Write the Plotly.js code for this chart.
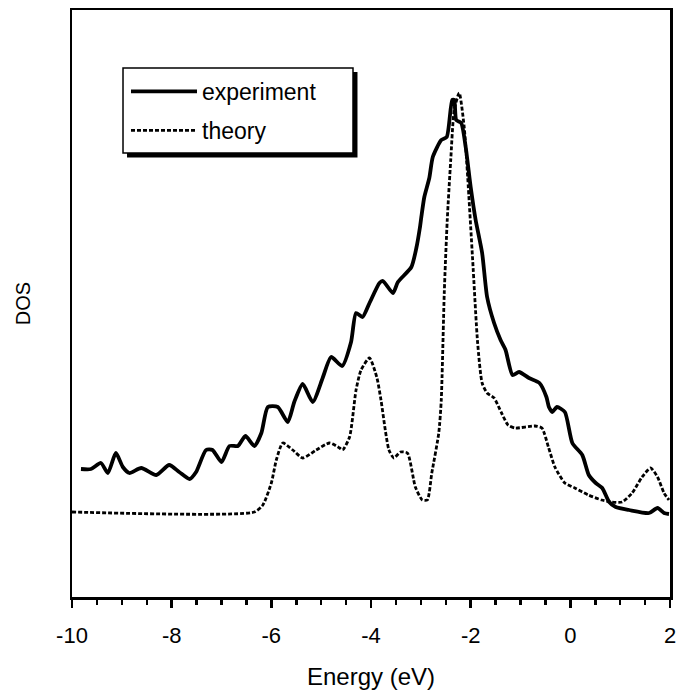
<!DOCTYPE html>
<html>
<head>
<meta charset="utf-8">
<script src="https://cdn.plot.ly/plotly-3.0.1.min.js"></script>
<style>html,body{margin:0;padding:0;background:#fff;}#chart{width:676px;height:693px;}</style>
</head>
<body>
<div id="chart"></div>
<script>
// Experiment DOS (arbitrary units)
var expEnergy = [-9.82,-9.62,-9.42,-9.28,-9.12,-8.98,-8.85,-8.61,-8.31,-8.05,-7.85,-7.64,-7.51,-7.31,-7.18,-7.00,-6.84,-6.67,-6.52,-6.34,-6.20,-6.07,-5.87,-5.67,-5.54,-5.37,-5.17,-4.97,-4.80,-4.58,-4.40,-4.30,-4.17,-4.03,-3.83,-3.76,-3.56,-3.46,-3.19,-3.09,-3.02,-2.99,-2.93,-2.83,-2.76,-2.59,-2.48,-2.37,-2.33,-2.29,-2.19,-2.10,-2.00,-1.90,-1.77,-1.67,-1.53,-1.40,-1.30,-1.16,-1.03,-0.83,-0.62,-0.48,-0.43,-0.36,-0.27,-0.11,0.04,0.24,0.37,0.51,0.64,0.78,0.91,1.18,1.58,1.75,1.88,1.98];
var expDOS = [1.28,1.28,1.34,1.24,1.44,1.30,1.24,1.29,1.22,1.32,1.25,1.18,1.25,1.47,1.47,1.35,1.51,1.51,1.61,1.51,1.64,1.90,1.90,1.75,1.95,2.13,1.95,2.19,2.40,2.31,2.55,2.84,2.80,2.94,3.14,3.16,3.04,3.15,3.30,3.49,3.69,3.80,4.00,4.19,4.40,4.57,4.60,4.97,4.97,4.77,4.74,4.50,4.10,3.77,3.44,3.00,2.74,2.57,2.47,2.22,2.25,2.19,2.14,2.00,1.90,1.85,1.90,1.85,1.54,1.42,1.22,1.14,1.09,0.95,0.90,0.87,0.84,0.89,0.84,0.83];
// Theory DOS (arbitrary units)
var thEnergy = [-10.0,-6.34,-6.17,-6.00,-5.90,-5.77,-5.57,-5.37,-5.10,-4.83,-4.63,-4.57,-4.43,-4.30,-4.20,-4.03,-3.88,-3.80,-3.64,-3.54,-3.41,-3.27,-3.11,-2.97,-2.87,-2.78,-2.64,-2.59,-2.53,-2.47,-2.40,-2.33,-2.23,-2.13,-2.06,-1.96,-1.86,-1.77,-1.67,-1.53,-1.38,-1.25,-1.11,-0.71,-0.57,-0.44,-0.31,-0.11,0.09,0.36,0.63,0.83,1.04,1.24,1.44,1.61,1.75,1.88,1.98];
var thDOS = [0.85,0.85,0.92,1.14,1.37,1.54,1.47,1.39,1.47,1.54,1.49,1.47,1.60,2.07,2.27,2.39,2.19,1.97,1.47,1.39,1.45,1.44,1.10,0.97,0.97,1.24,1.64,1.97,3.04,3.77,4.37,4.87,5.04,4.70,4.20,3.37,2.54,2.14,2.04,1.99,1.84,1.72,1.69,1.71,1.69,1.50,1.30,1.14,1.09,1.02,0.97,0.95,0.95,1.04,1.20,1.29,1.20,1.04,0.97];
var xTickVals = [-10,-8,-6,-4,-2,0,2];
var xTickText = ['-10','-8','-6','-4','-2','0','2'];
var seriesNames = ['experiment','theory'];

var font = 'Liberation Sans, Arial, sans-serif';
var traces = [
  {x: expEnergy, y: expDOS, name: seriesNames[0], mode: 'lines', legendgroup: 'a',
   line: {color: '#000', width: 3.8, shape: 'spline', smoothing: 0.6}},
  {x: thEnergy, y: thDOS, name: seriesNames[1], mode: 'lines', legendgroup: 'b',
   line: {color: '#000', width: 2.8, dash: '4px,2px', shape: 'spline', smoothing: 0.6}}
];
var layout = {
  width: 676, height: 693,
  margin: {l: 72, r: 6, t: 10, b: 96},
  paper_bgcolor: '#fff', plot_bgcolor: '#fff',
  font: {family: font, color: '#000', size: 22},
  showlegend: true,
  legend: {x: 0.0903, y: 0.8978, xanchor: 'left', yanchor: 'top',
    bgcolor: 'rgba(0,0,0,0)', borderwidth: 0,
    font: {family: font, size: 23, color: '#000'},
    itemwidth: 66, tracegroupgap: 6, traceorder: 'grouped'},
  xaxis: {range: [-10, 2], tickvals: xTickVals, ticktext: xTickText,
    showgrid: false, zeroline: false, showline: true, mirror: true,
    linecolor: '#000', linewidth: 2.5,
    ticks: 'outside', ticklen: 8, tickwidth: 2.5, tickcolor: '#000',
    ticklabelstandoff: 9, ticklabeloverflow: 'allow',
    minor: {dtick: 0.5, ticks: 'outside', ticklen: 5, tickwidth: 2.5, tickcolor: '#000', showgrid: false},
    tickfont: {family: font, size: 22},
    title: {text: 'Energy (eV)', font: {family: font, size: 24}, standoff: 22}},
  yaxis: {range: [0, 5.87], showticklabels: false, ticks: '',
    showgrid: false, zeroline: false, showline: true, mirror: true,
    linecolor: '#000', linewidth: 2.5,
    title: {text: 'DOS', font: {family: font, size: 20}, standoff: 34}},
  shapes: [
    // legend drop shadow
    {type: 'rect', xref: 'paper', yref: 'paper',
     x0: 0.092, x1: 0.4774, y0: 0.7487, y1: 0.8944,
     fillcolor: '#000', line: {width: 0}, layer: 'above'},
    // legend box
    {type: 'rect', xref: 'paper', yref: 'paper',
     x0: 0.0853, x1: 0.4699, y0: 0.7564, y1: 0.9012,
     fillcolor: '#fff', line: {color: '#000', width: 1.5}, layer: 'above'}
  ]
};
Plotly.newPlot('chart', traces, layout, {staticPlot: true});
</script>
</body>
</html>
